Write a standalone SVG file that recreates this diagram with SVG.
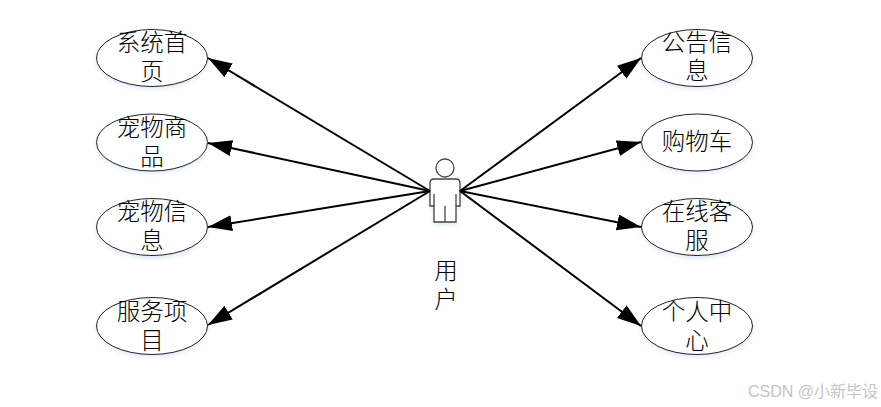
<svg xmlns="http://www.w3.org/2000/svg" width="881" height="407" viewBox="0 0 881 407">
<style>
.n{fill:#fff;stroke:#222;stroke-width:1;filter:drop-shadow(0 2px 2px #dde7f8)}
.t{font-family:"Noto Sans CJK SC","Liberation Serif",serif;font-size:23.500px;font-weight:300;fill:#000;text-anchor:middle}
.c{stroke:#000;stroke-width:2;fill:none;marker-end:url(#a)}
.p{fill:#fff;stroke:#444;stroke-width:1.300}
</style>
<defs>
<marker id="a" markerUnits="userSpaceOnUse" markerWidth="26" markerHeight="18" refX="24" refY="8" orient="auto"><path d="M0 0L24 8L0 16Z" fill="#000"/></marker>
</defs>
<rect width="881" height="407" fill="#fff"/>
<g id="n1"><ellipse class="n" cx="152" cy="58" rx="55.500" ry="28.500"/><text class="t"><tspan x="152" y="51">系统首</tspan><tspan x="152" y="80">页</tspan></text></g>
<g id="n2"><ellipse class="n" cx="152" cy="142.500" rx="55.500" ry="28.500"/><text class="t"><tspan x="152" y="136">宠物商</tspan><tspan x="152" y="165">品</tspan></text></g>
<g id="n3"><ellipse class="n" cx="152" cy="227" rx="55.500" ry="28.500"/><text class="t"><tspan x="152" y="220">宠物信</tspan><tspan x="152" y="249">息</tspan></text></g>
<g id="n4"><ellipse class="n" cx="152" cy="326" rx="55.500" ry="28.500"/><text class="t"><tspan x="152" y="320">服务项</tspan><tspan x="152" y="349">目</tspan></text></g>
<g id="n5"><ellipse class="n" cx="697" cy="58" rx="55.500" ry="28.500"/><text class="t"><tspan x="697" y="51">公告信</tspan><tspan x="697" y="79">息</tspan></text></g>
<g id="n6"><ellipse class="n" cx="697" cy="142.500" rx="55.500" ry="28.500"/><text class="t" x="697" y="150">购物车</text></g>
<g id="n7"><ellipse class="n" cx="697" cy="227" rx="55.500" ry="28.500"/><text class="t"><tspan x="697" y="220">在线客</tspan><tspan x="697" y="249">服</tspan></text></g>
<g id="n8"><ellipse class="n" cx="697" cy="326" rx="55.500" ry="28.500"/><text class="t"><tspan x="697" y="320">个人中</tspan><tspan x="697" y="349">心</tspan></text></g>
<g id="user">
<circle class="p" cx="445" cy="168" r="9"/>
<path class="p" style="filter:drop-shadow(0 2px 2px #dde7f8)" d="M434 179H456Q460 179 460 183V206H456V222H434V206H430V183Q430 179 434 179Z"/>
<path class="p" fill="none" d="M434 194V206M456 194V206M445 206V222"/>
<text class="t"><tspan x="446" y="279">用</tspan><tspan x="446" y="308">户</tspan></text>
</g>
<g id="connectors">
<line class="c" x1="430" y1="191" x2="208" y2="58"/>
<line class="c" x1="430" y1="191" x2="208" y2="143"/>
<line class="c" x1="430" y1="191" x2="208" y2="227"/>
<line class="c" x1="430" y1="191" x2="208" y2="325"/>
<line class="c" x1="460" y1="191" x2="641" y2="58"/>
<line class="c" x1="460" y1="191" x2="641" y2="142"/>
<line class="c" x1="460" y1="191" x2="641" y2="227"/>
<line class="c" x1="460" y1="191" x2="641" y2="326"/>
</g>
<text x="813" y="397" font-family="'Liberation Sans','Noto Sans CJK SC',sans-serif" font-size="16" fill="#c4c4c4" text-anchor="middle">CSDN @小新毕设</text>
</svg>
